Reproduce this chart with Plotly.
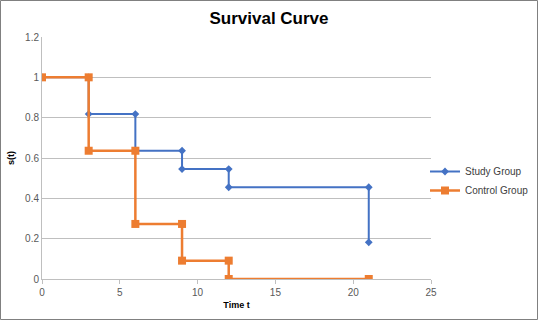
import plotly.graph_objects as go

study_t = [0, 3, 3, 6, 6, 9, 9, 12, 12, 21, 21]
study_s = [1, 1, 0.818, 0.818, 0.636, 0.636, 0.545, 0.545, 0.455, 0.455, 0.182]
control_t = [0, 3, 3, 6, 6, 9, 9, 12, 12, 21]
control_s = [1, 1, 0.636, 0.636, 0.273, 0.273, 0.091, 0.091, 0, 0]
x_ticks = [0, 5, 10, 15, 20, 25]
y_ticks = [0, 0.2, 0.4, 0.6, 0.8, 1, 1.2]
y_tick_text = ["0", "0.2", "0.4", "0.6", "0.8", "1", "1.2"]

W, H = 538, 320
L, R, T, B = 42, 107, 37, 41
pw, ph = W - L - R, H - T - B

fig = go.Figure()
fig.add_trace(go.Scatter(x=study_t, y=study_s, mode="lines+markers", name="Study Group",
                         line=dict(color="#4472C4", width=2),
                         marker=dict(symbol="diamond", size=6, color="#4472C4")))
fig.add_trace(go.Scatter(x=control_t, y=control_s, mode="lines+markers", name="Control Group",
                         line=dict(color="#ED7D31", width=2.5),
                         marker=dict(symbol="square", size=8, color="#ED7D31")))

fig.update_layout(
    width=W, height=H,
    margin=dict(l=L, r=R, t=T, b=B, autoexpand=False),
    paper_bgcolor="white", plot_bgcolor="white",
    font=dict(family="Liberation Sans, Arial, sans-serif", size=10, color="#595959"),
    title=dict(text="<b>Survival Curve</b>", x=0.5, xanchor="center", y=0.945, yanchor="middle",
               font=dict(size=17, color="#000000")),
    xaxis=dict(range=[0, 25], tickvals=x_ticks, showgrid=False, zeroline=False, automargin=False,
               showline=True, linecolor="#BFBFBF", linewidth=1, ticks="outside",
               ticklen=4, tickcolor="#BFBFBF",
               title=dict(text="<b>Time t</b>", font=dict(size=9, color="#000000"), standoff=4)),
    yaxis=dict(range=[0, 1.2], tickvals=y_ticks, ticktext=y_tick_text, showgrid=True, automargin=False,
               gridcolor="#BFBFBF", gridwidth=1, zeroline=False,
               showline=True, linecolor="#BFBFBF", linewidth=1,
               title=dict(text="<b>s(t)</b>", font=dict(size=9, color="#000000"), standoff=8)),
    legend=dict(x=(425 - L) / pw, y=(H - B - 157) / ph, xanchor="left", yanchor="top",
                bgcolor="rgba(0,0,0,0)", font=dict(size=10, color="#404040"), tracegroupgap=2),
    shapes=[dict(type="rect", xref="paper", yref="paper",
                 x0=(-L + 0.5) / pw, x1=(W - L - 0.5) / pw,
                 y0=(-B + 0.5) / ph, y1=(H - B - 0.5) / ph,
                 line=dict(color="#808080", width=1))],
)

fig.write_html("out.html", config={"displayModeBar": False},
               post_script="document.body.style.margin='0';")
